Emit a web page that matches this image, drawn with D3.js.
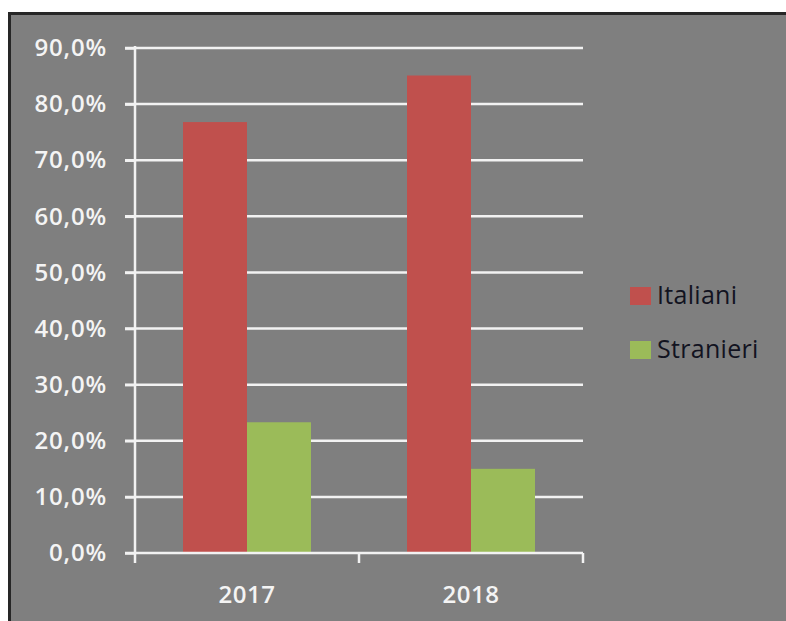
<!DOCTYPE html>
<html>
<head>
<meta charset="utf-8">
<script src="https://cdn.jsdelivr.net/npm/d3@7"></script>
<style>
  html, body { margin: 0; padding: 0; background: #fff; }
  svg { display: block; }
</style>
</head>
<body>
<div id="chart"></div>
<script>
const width = 786;
const height = 621;

// data
const years = ["2017", "2018"];
const seriesNames = ["Italiani", "Stranieri"];
const italiani = [0.768, 0.851];
const stranieri = [0.233, 0.150];
const yTicks = [0, 0.1, 0.2, 0.3, 0.4, 0.5, 0.6, 0.7, 0.8, 0.9];

const colors = {Italiani: "#c0504d", Stranieri: "#9bbb59"};
const margin = ({top: 48, right: 203, bottom: 68, left: 135});

const rows = years.map((y, i) => ({year: y, Italiani: italiani[i], Stranieri: stranieri[i]}));

const svg = d3.select("#chart").append("svg")
    .attr("width", width)
    .attr("height", height);

// grey panel with dark frame
svg.append("rect")
    .attr("x", 9.5).attr("y", 13.5)
    .attr("width", width).attr("height", height)
    .attr("fill", "#7f7f7f")
    .attr("stroke", "#262626")
    .attr("stroke-width", 3);

const x = d3.scaleBand()
    .domain(years)
    .range([margin.left, width - margin.right])
    .paddingInner(0.4286)
    .paddingOuter(0.2143);

const xs = d3.scaleBand()
    .domain(seriesNames)
    .range([0, x.bandwidth()]);

const y = d3.scaleLinear()
    .domain([0, 0.9])
    .range([height - margin.bottom, margin.top]);

const fmt = d => d3.format(".1%")(d).replace(".", ",");

// gridlines
svg.append("g")
    .attr("stroke", "#f2f2f2")
    .attr("stroke-width", 2.5)
    .selectAll("line")
    .data(yTicks.slice(1))
    .join("line")
      .attr("x1", margin.left - 10)
      .attr("x2", width - margin.right)
      .attr("y1", d => y(d))
      .attr("y2", d => y(d));

// bars
svg.append("g")
  .selectAll("g")
  .data(rows)
  .join("g")
    .attr("transform", d => `translate(${x(d.year)},0)`)
  .selectAll("rect")
  .data(d => seriesNames.map(k => ({key: k, value: d[k]})))
  .join("rect")
    .attr("x", d => xs(d.key))
    .attr("y", d => y(d.value))
    .attr("width", xs.bandwidth())
    .attr("height", d => y(0) - y(d.value))
    .attr("fill", d => colors[d.key]);

// y axis
const yAxis = svg.append("g")
    .attr("transform", `translate(${margin.left},0)`)
    .call(d3.axisLeft(y).tickValues(yTicks).tickFormat(fmt).tickSize(10).tickPadding(18));
yAxis.select(".domain").attr("stroke", "#f2f2f2").attr("stroke-width", 2.5)
    .attr("d", `M0,${margin.top - 2}V${y(0)}`);
yAxis.selectAll(".tick line").attr("stroke", "#f2f2f2").attr("stroke-width", 2.5);
yAxis.selectAll(".tick text")
    .attr("fill", "#f4f4f4")
    .attr("font-family", "'Open Sans', sans-serif")
    .attr("font-weight", 600)
    .attr("font-size", 24)
    .attr("letter-spacing", 0.8);

// x axis
const xAxis = svg.append("g")
    .attr("transform", `translate(0,${y(0)})`)
    .call(d3.axisBottom(x).tickSize(0).tickPadding(33));
xAxis.select(".domain").remove();
xAxis.selectAll(".tick text")
    .attr("fill", "#f4f4f4")
    .attr("font-family", "'Open Sans', sans-serif")
    .attr("font-weight", 600)
    .attr("font-size", 24)
    .attr("letter-spacing", 0.5);

const xr = x.range();
svg.append("line")
    .attr("x1", xr[0] - 10).attr("x2", xr[1])
    .attr("y1", y(0)).attr("y2", y(0))
    .attr("stroke", "#f2f2f2").attr("stroke-width", 2.5);

// category separators below the axis
const seps = [xr[0], x(years[1]) - x.step() * x.paddingInner() / 2, xr[1]];
svg.append("g")
  .selectAll("line")
  .data(seps)
  .join("line")
    .attr("x1", d => d).attr("x2", d => d)
    .attr("y1", y(0)).attr("y2", y(0) + 10)
    .attr("stroke", "#f2f2f2").attr("stroke-width", 2.5);

// legend
const legend = svg.append("g")
  .selectAll("g")
  .data(seriesNames)
  .join("g")
    .attr("transform", (d, i) => `translate(630,${287 + i * 54})`);

legend.append("rect")
    .attr("width", 21).attr("height", 18)
    .attr("fill", d => colors[d]);

legend.append("text")
    .attr("x", 27).attr("y", 17)
    .attr("fill", "#12131f")
    .attr("font-family", "'Open Sans', sans-serif")
    .attr("font-size", 25)
    .attr("letter-spacing", 0.3)
    .text(d => d);
</script>
</body>
</html>
